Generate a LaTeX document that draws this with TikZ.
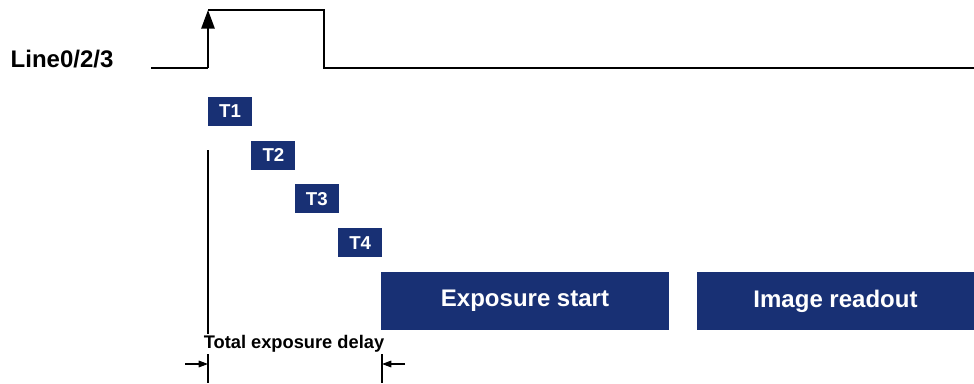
\documentclass[tikz,border=0pt]{standalone}
\usepackage{fontspec}
\setmainfont{Liberation Sans}
\usetikzlibrary{arrows.meta,positioning}
\definecolor{navy}{RGB}{24,48,116}

\begin{document}
\begin{tikzpicture}[
  x=0.75pt, y=-0.75pt,
  font=\bfseries,
  tbox/.style={fill=navy, text=white, minimum width=33pt, minimum height=21.75pt,
    inner sep=0pt, font=\fontsize{14}{16}\selectfont\bfseries},
  phase/.style={fill=navy, text=white, minimum height=43.5pt, inner sep=0pt,
    font=\fontsize{18}{20}\selectfont\bfseries},
  sig/.style={line width=1.4pt},
  dim/.style={-{Triangle[length=7pt,width=5pt]}, line width=0.8pt},
]
  \useasboundingbox (0,0) rectangle (974,383);

  \node[anchor=west, font=\fontsize{18}{20}\selectfont\bfseries] (lbl) at (6,59.5) {Line0/2/3};

  % trigger signal
  \coordinate (s0) at (151,68);
  \coordinate (s1) at (208,68);
  \coordinate (s2) at (208,10);
  \coordinate (s3) at (324,10);
  \coordinate (s4) at (324,68);
  \coordinate (s5) at (974,68);
  \draw[sig] (s0) -- (s1);
  \draw[sig, -{Triangle[length=14pt,width=10pt]}] (s1) -- (s2);
  \draw[sig] (s2) -- (s3) -- (s4) -- (s5);

  % delays
  \foreach \i in {1,...,4} {
    \node[tbox] (t\i) at ({230+43.4*(\i-1)},{111.5+43.7*(\i-1)}) {T\i};
  }

  \node[phase, minimum width=216pt] (exp) at (525,301) {Exposure start};
  \node[phase, minimum width=207.75pt] (rd) at (835.5,301) {Image readout};

  % total delay
  \coordinate (a0) at (208,150);
  \coordinate (a1) at (208,383);
  \coordinate (b0) at (382,348);
  \coordinate (b1) at (382,383);
  \draw[line width=0.8pt] (a0) -- (a1);
  \draw[line width=0.8pt] (b0) -- (b1);
  \node[fill=white, inner sep=1pt, font=\fontsize{13.7}{15}\selectfont\bfseries] (dl) at (294,344) {Total exposure delay};
  \coordinate (l0) at (185,364);
  \coordinate (l1) at (208,364);
  \coordinate (r0) at (405,364);
  \coordinate (r1) at (382,364);
  \draw[dim] (l0) -- (l1);
  \draw[dim] (r0) -- (r1);
\end{tikzpicture}
\end{document}
